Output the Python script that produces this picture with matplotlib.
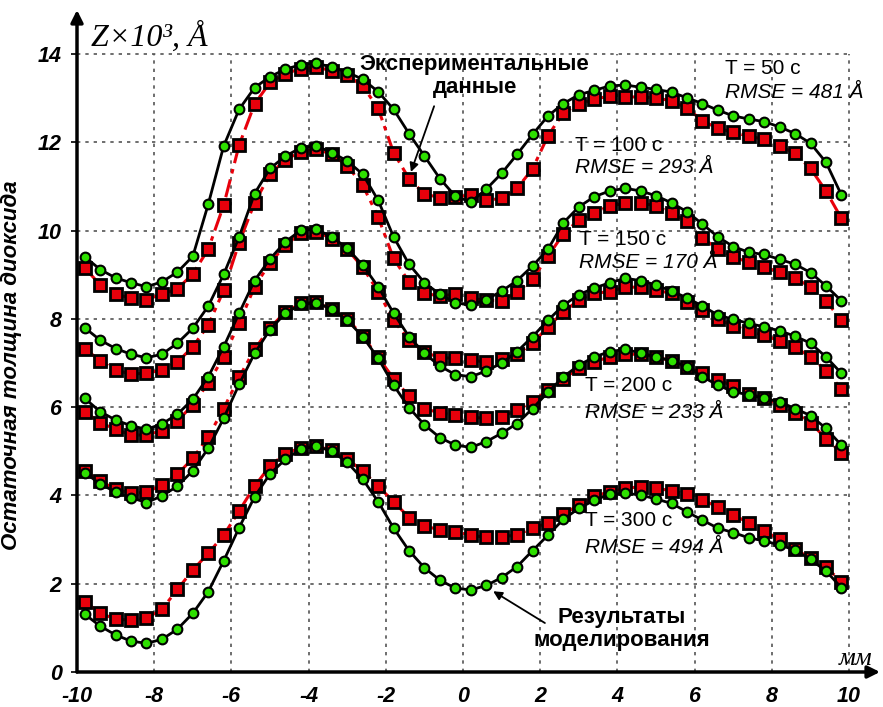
import matplotlib
matplotlib.use("Agg")
import matplotlib.pyplot as plt

# measurement positions, mm
x = [-9.8, -9.4, -9.0, -8.6, -8.2, -7.8, -7.4, -7.0, -6.6, -6.2,
     -5.8, -5.4, -5.0, -4.6, -4.2, -3.8, -3.4, -3.0, -2.6, -2.2,
     -1.8, -1.4, -1.0, -0.6, -0.2, 0.2, 0.6, 1.0, 1.4, 1.8,
     2.2, 2.6, 3.0, 3.4, 3.8, 4.2, 4.6, 5.0, 5.4, 5.8,
     6.2, 6.6, 7.0, 7.4, 7.8, 8.2, 8.6, 9.0, 9.4, 9.8]

# remaining oxide thickness, 10^3 A
exp_50 = [9.16, 8.77, 8.56, 8.47, 8.44, 8.56, 8.68, 9.02, 9.58, 10.58,
          11.94, 12.87, 13.36, 13.56, 13.67, 13.71, 13.62, 13.52, 13.28, 12.77,
          11.77, 11.18, 10.83, 10.75, 10.76, 10.81, 10.69, 10.73, 10.96, 11.4,
          12.15, 12.67, 12.87, 12.98, 13.05, 13.03, 13.03, 13.01, 12.94, 12.78,
          12.49, 12.32, 12.23, 12.14, 12.07, 11.92, 11.75, 11.41, 10.9, 10.28]
model_50 = [9.41, 9.12, 8.93, 8.82, 8.73, 8.84, 9.06, 9.42, 10.6, 11.92,
            12.75, 13.24, 13.49, 13.66, 13.76, 13.79, 13.71, 13.59, 13.43, 13.15,
            12.75, 12.2, 11.69, 11.18, 10.78, 10.65, 10.94, 11.3, 11.73, 12.18,
            12.6, 12.88, 13.08, 13.18, 13.28, 13.3, 13.25, 13.2, 13.14, 13.01,
            12.88, 12.73, 12.6, 12.53, 12.47, 12.35, 12.2, 11.98, 11.55, 10.81]

exp_100 = [7.33, 7.05, 6.84, 6.75, 6.77, 6.84, 7.02, 7.37, 7.86, 8.65,
           9.73, 10.63, 11.28, 11.61, 11.79, 11.85, 11.73, 11.47, 11.03, 10.31,
           9.37, 8.84, 8.58, 8.52, 8.56, 8.47, 8.42, 8.41, 8.61, 8.9,
           9.42, 9.93, 10.24, 10.41, 10.56, 10.62, 10.63, 10.56, 10.39, 10.22,
           9.84, 9.58, 9.41, 9.28, 9.17, 9.07, 8.92, 8.73, 8.41, 7.97]
model_100 = [7.8, 7.52, 7.33, 7.2, 7.12, 7.2, 7.45, 7.79, 8.29, 9.01,
             9.86, 10.84, 11.41, 11.69, 11.88, 11.92, 11.77, 11.58, 11.28, 10.69,
             9.86, 9.24, 8.82, 8.56, 8.37, 8.31, 8.44, 8.63, 8.87, 9.2,
             9.58, 10.18, 10.54, 10.77, 10.9, 10.96, 10.9, 10.79, 10.63, 10.43,
             10.15, 9.86, 9.64, 9.51, 9.46, 9.35, 9.24, 9.05, 8.75, 8.41]

exp_150 = [5.9, 5.65, 5.5, 5.37, 5.37, 5.47, 5.69, 6.05, 6.55, 7.14,
           7.9, 8.73, 9.27, 9.67, 9.95, 9.98, 9.82, 9.58, 9.17, 8.62,
           7.97, 7.52, 7.25, 7.12, 7.11, 7.07, 7.02, 7.09, 7.2, 7.45,
           7.82, 8.16, 8.43, 8.58, 8.62, 8.72, 8.72, 8.65, 8.58, 8.39,
           8.2, 7.99, 7.85, 7.73, 7.63, 7.5, 7.36, 7.14, 6.83, 6.41]
model_150 = [6.2, 5.9, 5.71, 5.58, 5.5, 5.62, 5.84, 6.18, 6.69, 7.37,
             8.13, 8.87, 9.36, 9.75, 10.01, 10.03, 9.86, 9.6, 9.22, 8.73,
             8.13, 7.6, 7.22, 6.93, 6.74, 6.69, 6.82, 7.0, 7.26, 7.6,
             7.97, 8.31, 8.55, 8.7, 8.82, 8.92, 8.87, 8.77, 8.63, 8.48,
             8.29, 8.09, 7.99, 7.9, 7.82, 7.73, 7.61, 7.45, 7.14, 6.77]

exp_200 = [4.55, 4.33, 4.14, 4.05, 4.07, 4.24, 4.48, 4.84, 5.33, 5.97,
           6.68, 7.31, 7.8, 8.16, 8.35, 8.38, 8.22, 8.0, 7.62, 7.13,
           6.65, 6.25, 5.97, 5.87, 5.82, 5.77, 5.75, 5.78, 5.94, 6.12,
           6.39, 6.65, 6.88, 7.03, 7.14, 7.2, 7.2, 7.14, 7.05, 6.9,
           6.77, 6.62, 6.48, 6.31, 6.2, 6.05, 5.87, 5.65, 5.29, 4.97]
model_200 = [4.52, 4.26, 4.08, 3.95, 3.84, 3.99, 4.21, 4.56, 5.07, 5.75,
             6.52, 7.22, 7.76, 8.13, 8.33, 8.37, 8.22, 7.97, 7.6, 7.11,
             6.5, 5.99, 5.6, 5.31, 5.14, 5.09, 5.22, 5.41, 5.63, 5.97,
             6.34, 6.69, 6.95, 7.14, 7.26, 7.31, 7.23, 7.14, 7.05, 6.92,
             6.69, 6.5, 6.35, 6.28, 6.2, 6.12, 5.97, 5.81, 5.52, 5.14]

exp_300 = [1.59, 1.34, 1.19, 1.18, 1.22, 1.42, 1.87, 2.31, 2.69, 3.1,
           3.65, 4.21, 4.67, 4.95, 5.08, 5.12, 5.02, 4.82, 4.56, 4.21,
           3.86, 3.5, 3.31, 3.22, 3.18, 3.1, 3.05, 3.07, 3.1, 3.27,
           3.37, 3.58, 3.78, 3.99, 4.08, 4.16, 4.2, 4.16, 4.11, 4.03,
           3.9, 3.74, 3.56, 3.38, 3.19, 3.01, 2.78, 2.58, 2.37, 2.05]
model_300 = [1.31, 1.04, 0.84, 0.7, 0.65, 0.74, 0.97, 1.33, 1.82, 2.52,
             3.27, 3.97, 4.49, 4.82, 5.05, 5.12, 5.0, 4.75, 4.37, 3.86,
             3.26, 2.75, 2.36, 2.08, 1.9, 1.86, 1.96, 2.14, 2.39, 2.75,
             3.1, 3.46, 3.71, 3.89, 4.03, 4.05, 4.01, 3.92, 3.82, 3.63,
             3.44, 3.26, 3.16, 3.04, 2.97, 2.88, 2.76, 2.55, 2.29, 1.91]

exp_series = [exp_50, exp_100, exp_150, exp_200, exp_300]
model_series = [model_50, model_100, model_150, model_200, model_300]

labels = ["T = 50 c", "T = 100 c", "T = 150 c", "T = 200 c", "T = 300 c"]
rmse = ["RMSE = 481 Å", "RMSE = 293 Å", "RMSE = 170 Å", "RMSE = 233 Å", "RMSE = 494 Å"]
label_pos = [(6.78, 13.68, 13.14), (2.9, 11.94, 11.42), (3.0, 9.79, 9.27),
             (3.15, 6.5, 5.89), (3.15, 3.44, 2.81)]

x_ticks = [-10, -8, -6, -4, -2, 0, 2, 4, 6, 8, 10]
y_ticks = [0, 2, 4, 6, 8, 10, 12, 14]

plt.rcParams['font.family'] = ['Liberation Sans', 'DejaVu Sans']
plt.rcParams['axes.unicode_minus'] = False

fig = plt.figure(figsize=(8.83, 7.07), dpi=100)
ax = fig.add_axes([77 / 883, 35 / 707, 803 / 883, 662 / 707])
ax.set_xlim(-10, 10.8)
ax.set_ylim(0, 15.0)

# dotted grid only inside the 0..14 / -10..10 box
ax.hlines(y_ticks[1:], -10, 10, colors='#555555', linestyles=(0, (2, 3)), lw=1.2, zorder=1)
ax.vlines(x_ticks[1:], 0, 14, colors='#555555', linestyles=(0, (2, 3)), lw=1.2, zorder=1)

for ye, ym in zip(exp_series, model_series):
    ax.plot(x, ye, color='#e8000b', lw=2.2, dashes=(6, 2, 1.5, 2),
            marker='s', ms=9, mfc='#e8000b', mec='black', mew=2, zorder=3)
    ax.plot(x, ym, color='black', lw=2.0,
            marker='o', ms=7, mfc='#2ee000', mec='black', mew=1.5, zorder=4)

for lab, rm, (tx, ty1, ty2) in zip(labels, rmse, label_pos):
    ax.text(tx, ty1, lab, fontsize=15, va='center', ha='left', zorder=5)
    ax.text(tx, ty2, rm, fontsize=15, style='italic', va='center', ha='left', zorder=5)

# callouts
arrow_kw = dict(arrowstyle='-|>', color='black', lw=1.3, shrinkA=0, shrinkB=0,
                mutation_scale=13)
ax.text(0.3, 13.5, "Экспериментальные\nданные", fontsize=16, fontweight='bold',
        ha='center', va='center', linespacing=1.1, zorder=6)
ax.annotate('', xy=(-1.35, 11.33), xytext=(-0.75, 12.82), arrowprops=arrow_kw, zorder=6)
ax.text(4.1, 0.98, "Результаты\nмоделирования", fontsize=16, fontweight='bold',
        ha='center', va='center', linespacing=1.1, zorder=6)
ax.annotate('', xy=(0.78, 1.83), xytext=(2.12, 1.11), arrowprops=arrow_kw, zorder=6)

ax.text(-9.65, 14.38, "Z×10³, Å", family='Liberation Serif', style='italic',
        fontsize=23, va='center', ha='left')
ax.text(9.72, 0.3, "мм", family='Liberation Serif', style='italic',
        fontsize=19, va='center', ha='left')

# axes as arrows
for s in ax.spines.values():
    s.set_visible(False)
ax.annotate('', xy=(-10, 15.0), xytext=(-10, 0),
            arrowprops=dict(arrowstyle='-|>', color='black', lw=2.5, mutation_scale=18,
                            shrinkA=0, shrinkB=0), annotation_clip=False)
ax.annotate('', xy=(10.8, 0), xytext=(-10, 0),
            arrowprops=dict(arrowstyle='-|>', color='black', lw=2.5, mutation_scale=18,
                            shrinkA=0, shrinkB=0), annotation_clip=False)

ax.set_xticks(x_ticks)
ax.set_yticks(y_ticks)
ax.tick_params(axis='y', length=4, width=1.2, pad=7)
ax.tick_params(axis='x', length=0, pad=10)
for t in ax.get_xticklabels() + ax.get_yticklabels():
    t.set_fontsize(15.5)
    t.set_fontweight('bold')
    t.set_fontstyle('italic')

ax.set_ylabel("Остаточная толщина диоксида", fontsize=16, fontweight='bold',
              style='italic')
ax.yaxis.set_label_coords(-0.068, 0.464)

fig.savefig("out.png", dpi=100)
